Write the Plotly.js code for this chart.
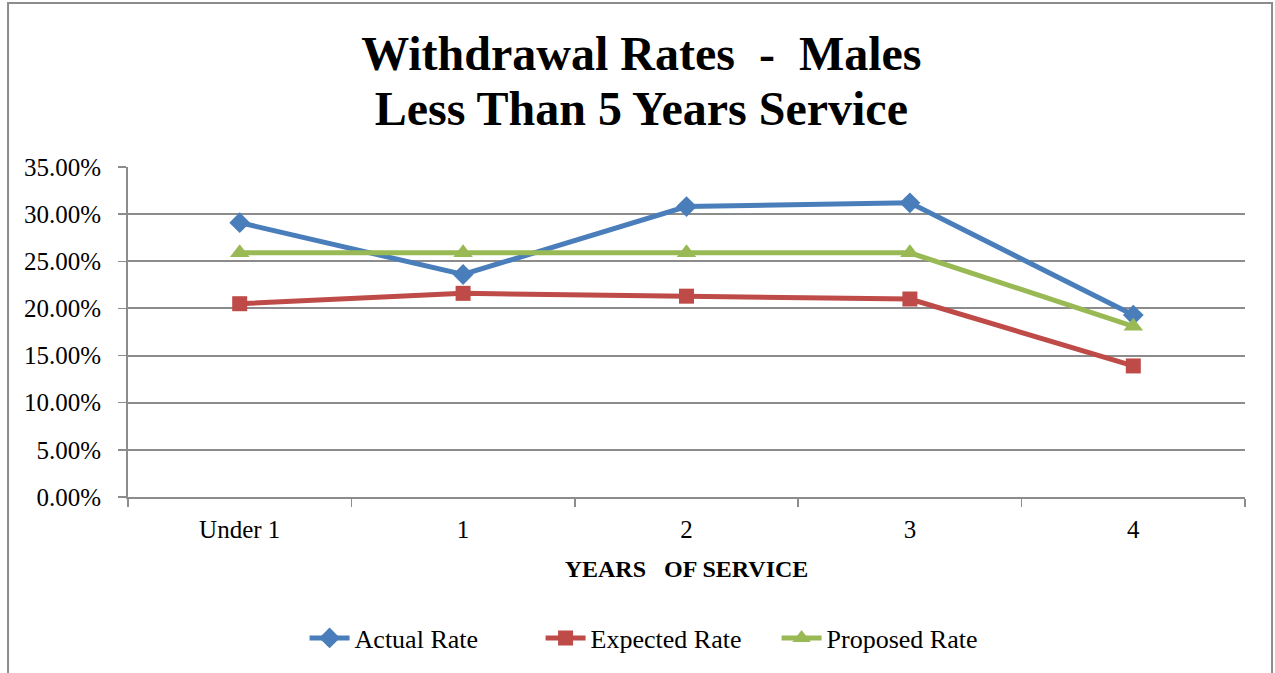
<!DOCTYPE html>
<html>
<head>
<meta charset="utf-8">
<script src="https://cdn.plot.ly/plotly-3.0.1.min.js"></script>
<style>
  html, body { margin: 0; padding: 0; background: #ffffff; }
  #chart { width: 1275px; height: 673px; }
</style>
</head>
<body>
<div id="chart"></div>
<script>
// Years-of-service buckets
var categories = ['Under 1', '1', '2', '3', '4'];

// Withdrawal rates per bucket (fractions)
var actualRate   = [0.291, 0.236, 0.308, 0.312, 0.193];
var expectedRate = [0.205, 0.216, 0.213, 0.210, 0.139];
var proposedRate = [0.259, 0.259, 0.259, 0.259, 0.181];

var seriesNames = ['Actual Rate', 'Expected Rate', 'Proposed Rate'];
var titleLines = ['Withdrawal Rates  -  Males', 'Less Than 5 Years Service'];

var serif = '"Liberation Serif", "Times New Roman", Times, serif';
var gridGray = '#8c8c8c';

function lineTrace(name, y, color, symbol, size) {
  return {
    type: 'scatter',
    mode: 'lines+markers',
    name: name,
    x: categories,
    y: y,
    line: { color: color, width: 5 },
    marker: { color: color, symbol: symbol, size: size, line: { width: 0 } },
    hoverinfo: 'x+y'
  };
}

var data = [
  lineTrace(seriesNames[0], actualRate,   '#4a7ebb', 'diamond',     16),
  lineTrace(seriesNames[1], expectedRate, '#be4b48', 'square',      15),
  lineTrace(seriesNames[2], proposedRate, '#98b954', 'triangle-up', 17)
];

// Large glyphs inside a smaller base size keep the two title lines close together
var titleText = titleLines.map(function (t) {
  return '<span style="font-size:48px">' + t + '</span>';
}).join('<br>');

var layout = {
  width: 1275,
  height: 673,
  paper_bgcolor: '#ffffff',
  plot_bgcolor: '#ffffff',
  margin: { l: 128, r: 30, t: 167, b: 176 },
  font: { family: serif, color: '#000000', size: 20 },
  title: {
    text: titleText,
    font: { family: serif, size: 42, weight: 'bold', color: '#000000' },
    xref: 'container',
    x: 0.503,
    xanchor: 'center',
    yref: 'container',
    y: 0.896,
    yanchor: 'middle'
  },
  xaxis: {
    type: 'category',
    range: [-0.5, 4.5],
    showgrid: false,
    showline: true,
    linecolor: gridGray,
    linewidth: 2,
    ticks: 'outside',
    tickson: 'boundaries',
    ticklen: 8,
    tickwidth: 1.5,
    tickcolor: gridGray,
    ticklabelstandoff: 9,
    tickfont: { family: serif, size: 25, color: '#000000' },
    title: {
      text: 'YEARS   OF SERVICE',
      font: { family: serif, size: 24, weight: 'bold', color: '#000000' },
      standoff: 18
    },
    fixedrange: true
  },
  yaxis: {
    range: [0, 0.35],
    dtick: 0.05,
    tick0: 0,
    tickformat: '.2%',
    showgrid: true,
    gridcolor: gridGray,
    gridwidth: 2,
    showline: true,
    linecolor: gridGray,
    linewidth: 2,
    zeroline: false,
    ticks: 'outside',
    ticklen: 8,
    tickwidth: 1.5,
    tickcolor: gridGray,
    ticklabelstandoff: 12,
    tickfont: { family: serif, size: 25, color: '#000000' },
    fixedrange: true
  },
  showlegend: true,
  legend: {
    orientation: 'h',
    xref: 'paper',
    x: 0.475,
    xanchor: 'center',
    yref: 'container',
    y: 0.052,
    yanchor: 'middle',
    font: { family: serif, size: 26, color: '#000000' },
    itemwidth: 40,
    entrywidth: 181,
    entrywidthmode: 'pixels',
    tracegroupgap: 0
  },
  shapes: [{
    type: 'rect',
    xref: 'paper', yref: 'paper',
    x0: -0.1074, x1: 1.0242,
    y0: -0.56, y1: 1.497,
    line: { color: '#8c8c8c', width: 2 },
    fillcolor: 'rgba(0,0,0,0)',
    layer: 'below'
  }]
};

Plotly.newPlot('chart', data, layout, { displayModeBar: false, staticPlot: true });
</script>
</body>
</html>
